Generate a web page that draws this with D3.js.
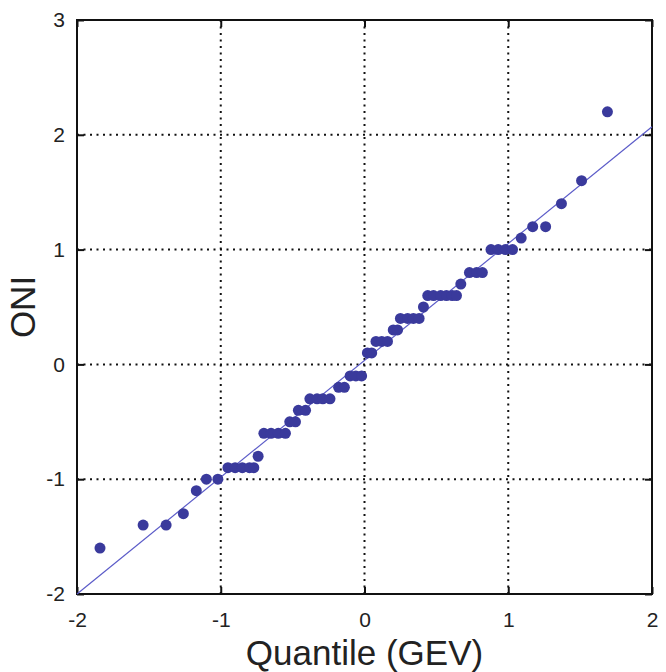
<!DOCTYPE html>
<html>
<head>
<meta charset="utf-8">
<script src="https://cdn.jsdelivr.net/npm/d3@7/dist/d3.min.js"></script>
<style>
  body { margin: 0; background: #fff; }
  svg text { font-family: "Liberation Sans", Arial, sans-serif; fill: #222; }
</style>
</head>
<body>
<div id="chart"></div>
<script>
// --- Data
const quantile = [-1.84, -1.54, -1.38, -1.26, -1.17, -1.10, -1.02, -0.95, -0.90, -0.85, -0.80, -0.77,
  -0.74, -0.70, -0.65, -0.60, -0.55, -0.52, -0.48, -0.46, -0.41, -0.38, -0.33, -0.29, -0.24,
  -0.18, -0.14, -0.10, -0.06, -0.02, 0.02, 0.05, 0.08, 0.12, 0.16, 0.20, 0.23, 0.25, 0.30, 0.34,
  0.38, 0.41, 0.44, 0.48, 0.53, 0.57, 0.61, 0.64, 0.67, 0.73, 0.78, 0.82, 0.88, 0.93, 0.98, 1.03,
  1.09, 1.17, 1.26, 1.37, 1.51, 1.69];
const oni = [-1.6, -1.4, -1.4, -1.3, -1.1, -1.0, -1.0, -0.9, -0.9, -0.9, -0.9, -0.9,
  -0.8, -0.6, -0.6, -0.6, -0.6, -0.5, -0.5, -0.4, -0.4, -0.3, -0.3, -0.3, -0.3,
  -0.2, -0.2, -0.1, -0.1, -0.1, 0.1, 0.1, 0.2, 0.2, 0.2, 0.3, 0.3, 0.4, 0.4, 0.4,
  0.4, 0.5, 0.6, 0.6, 0.6, 0.6, 0.6, 0.6, 0.7, 0.8, 0.8, 0.8, 1.0, 1.0, 1.0, 1.0,
  1.1, 1.2, 1.2, 1.4, 1.6, 2.2];
const fitLineX = [-2, 2];
const fitLineY = [-2, 2.07];
const xTicks = [-2, -1, 0, 1, 2];
const yTicks = [-2, -1, 0, 1, 2, 3];

// --- Layout
const width = 666, height = 672;
const margin = { top: 20, right: 14, bottom: 78, left: 77 };
const innerW = width - margin.left - margin.right;
const innerH = height - margin.top - margin.bottom;

const svg = d3.select("#chart").append("svg")
  .attr("width", width)
  .attr("height", height);

const g = svg.append("g")
  .attr("transform", `translate(${margin.left},${margin.top})`);

const x = d3.scaleLinear().domain([-2, 2]).range([0, innerW]);
const y = d3.scaleLinear().domain([-2, 3]).range([innerH, 0]);

// plain hyphen minus, like the original
const fmt = d => String(d);

// grid (dotted)
g.append("g")
  .selectAll("line")
  .data(xTicks.slice(1, -1))
  .join("line")
  .attr("x1", d => x(d)).attr("x2", d => x(d))
  .attr("y1", 0).attr("y2", innerH)
  .attr("stroke", "#111").attr("stroke-width", 2).attr("stroke-dasharray", "2,4.5");

g.append("g")
  .selectAll("line")
  .data(yTicks.slice(1, -1))
  .join("line")
  .attr("x1", 0).attr("x2", innerW)
  .attr("y1", d => y(d)).attr("y2", d => y(d))
  .attr("stroke", "#111").attr("stroke-width", 2).attr("stroke-dasharray", "2,4.5");

// axes with inward ticks
const tickLen = 7;
const styleAxis = sel => {
  sel.select(".domain").remove();
  sel.selectAll(".tick line").attr("stroke", "#111").attr("stroke-width", 2);
  sel.selectAll(".tick text").style("font-size", "21px");
};

g.append("g")
  .attr("transform", `translate(0,${innerH})`)
  .call(d3.axisBottom(x).tickValues(xTicks).tickFormat(fmt).tickSize(-tickLen).tickPadding(18))
  .call(styleAxis);

g.append("g")
  .call(d3.axisTop(x).tickValues(xTicks).tickFormat("").tickSize(-tickLen))
  .call(styleAxis);

g.append("g")
  .call(d3.axisLeft(y).tickValues(yTicks).tickFormat(fmt).tickSize(-tickLen).tickPadding(12))
  .call(styleAxis);

g.append("g")
  .attr("transform", `translate(${innerW},0)`)
  .call(d3.axisRight(y).tickValues(yTicks).tickFormat("").tickSize(-tickLen))
  .call(styleAxis);

g.selectAll(".tick text").attr("fill", "#222").style("font-family", "Liberation Sans, Arial, sans-serif");

// box
g.append("rect")
  .attr("width", innerW).attr("height", innerH)
  .attr("fill", "none").attr("stroke", "#111").attr("stroke-width", 2);

// reference line
g.append("line")
  .attr("x1", x(fitLineX[0])).attr("y1", y(fitLineY[0]))
  .attr("x2", x(fitLineX[1])).attr("y2", y(fitLineY[1]))
  .attr("stroke", "#5b5bc8").attr("stroke-width", 1.2);

// points
g.append("g")
  .selectAll("circle")
  .data(quantile.map((q, i) => ({ q: q, v: oni[i] })))
  .join("circle")
  .attr("cx", d => x(d.q))
  .attr("cy", d => y(d.v))
  .attr("r", 5.5)
  .attr("fill", "#3a3a9c");

// axis labels
svg.append("text")
  .attr("x", margin.left + innerW / 2)
  .attr("y", 665)
  .attr("text-anchor", "middle")
  .style("font-size", "35px")
  .text("Quantile (GEV)");

svg.append("text")
  .attr("transform", `translate(35, ${margin.top + innerH / 2}) rotate(-90)`)
  .attr("text-anchor", "middle")
  .style("font-size", "35px")
  .text("ONI");
</script>
</body>
</html>
